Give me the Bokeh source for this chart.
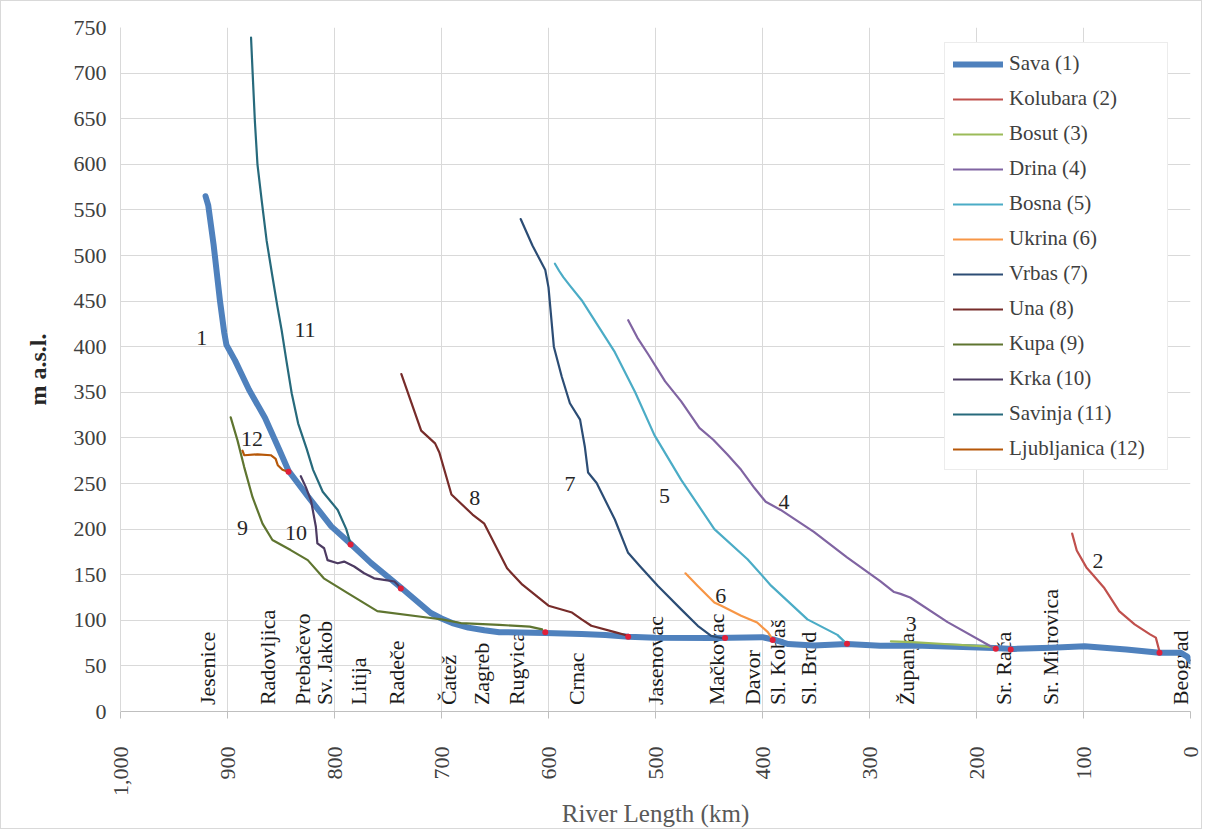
import math
from bokeh.plotting import figure
from bokeh.models import Range1d, Legend, LegendItem, NumeralTickFormatter, FixedTicker
from bokeh.core.properties import value
from bokeh.embed import file_html
from bokeh.resources import INLINE

FONT = "Liberation Serif"

# ---------------- data (km from mouth, m a.s.l.) ----------------
sava_km = [920.5, 918, 913, 907, 903, 901, 893, 880, 865, 852, 843, 825, 803, 785, 766, 738, 710, 700, 690,
           675, 660, 646, 603, 569, 547, 525, 500, 448, 430, 400, 390, 376, 352, 321, 290, 258, 220, 184, 165,
           130, 99, 60, 29, 9, 3, 0]
sava_m = [565, 555, 512, 450, 415, 402, 385, 353, 322, 288, 264, 236, 203, 184, 163, 136, 108, 102, 97,
          92, 89, 87, 86, 85, 84, 82, 81, 80.5, 81, 81.5, 79, 74, 72.3, 74, 72, 72.3, 71, 69.6, 68.6,
          70, 71.5, 68, 64.3, 64.3, 60, 55]

kolubara_km = [110.6, 106.3, 97.3, 91.9, 81, 66.7, 52.2, 37.8, 32.4, 28.8]
kolubara_m = [195, 176.5, 158, 150.7, 136, 110, 95.6, 84.6, 81, 65]

bosut_km = [280, 260, 230, 200, 184]
bosut_m = [77, 76, 74, 72, 70.5]

drina_km = [525.5, 517, 507, 491, 476, 459, 446, 433, 420, 407.5, 397, 383, 352, 321, 290, 277, 271, 262, 227, 182.3]
drina_m = [429, 410, 392, 362, 340, 311, 298, 282, 265, 245, 230, 221, 197, 169, 143, 131, 129, 125, 98, 68.6]

bosna_km = [594, 590, 586, 580, 569, 538, 519, 501, 476, 445, 414, 392, 358, 330, 322]
bosna_m = [491, 483, 476, 467, 451, 394, 350, 303, 254, 200, 167, 138, 101, 84, 75]

ukrina_km = [472, 460.5, 445, 438.5, 420, 405, 395, 390.5]
ukrina_m = [151.5, 137.6, 119.5, 116, 105, 97.6, 87, 79]

vrbas_km = [626, 615, 603, 600, 595, 587.6, 580, 570.5, 566, 563, 555, 538, 525.6, 514.7, 497.7, 476, 460.5, 448, 436]
vrbas_m = [540, 511, 484, 465, 400, 367, 338, 320, 290, 262, 250.5, 210.5, 174, 159.5, 137.6, 112, 94, 83, 80]

una_km = [737.5, 719, 706, 702, 690.7, 671, 660, 638.7, 624.4, 600, 578, 569, 560, 538, 525.6]
una_m = [370, 308, 294, 284, 238, 216, 206, 157, 139, 116, 108.5, 101, 94, 87, 83]

kupa_km = [897, 890.6, 884.4, 876.6, 867.3, 858, 841, 825, 810, 788, 760, 710, 700, 682, 646, 617.5, 606]
kupa_m = [322.5, 297, 268, 235, 206, 188, 177, 166, 146, 130, 110, 102.5, 101, 97, 95, 93, 90]

krka_km = [831.5, 826.8, 822, 817.4, 816, 809.7, 806.5, 797, 791, 781.6, 772.3, 763, 753.6, 744, 741, 738.6]
krka_m = [258, 246, 231.6, 202.5, 184.4, 179, 166, 162.5, 164.4, 159, 151.6, 146, 144.4, 142.5, 139, 135]

savinja_km = [878, 876.5, 874.4, 872, 868, 863.4, 858, 853.5, 849.4, 845, 840, 834, 826, 820, 811, 797, 789, 785]
savinja_m = [739, 700, 647, 600, 560, 516, 477, 445, 418, 385, 349, 316, 288, 265, 241, 221, 200, 184]

ljubljanica_km = [886, 884.4, 872, 859.5, 855, 853, 848.6, 843.5]
ljubljanica_m = [286, 281, 282, 281, 277, 270, 265, 263]

confl_km = [843, 785, 738, 603, 525.5, 435, 390.5, 321, 182, 168, 29]
confl_m = [263, 183, 135, 87, 82, 80.5, 78.5, 74.2, 68.8, 68, 64.5]

series_names = ["Sava (1)", "Kolubara (2)", "Bosut (3)", "Drina (4)", "Bosna (5)", "Ukrina (6)",
                "Vrbas (7)", "Una (8)", "Kupa (9)", "Krka (10)", "Savinja (11)", "Ljubljanica (12)"]
series_colors = ["#4F81BD", "#C0504D", "#9BBB59", "#8064A2", "#4BACC6", "#F79646",
                 "#2C4D75", "#772C2A", "#5F7530", "#4D3B62", "#276A7C", "#B65708"]

num_labels = ["1", "2", "3", "4", "5", "6", "7", "8", "9", "10", "11", "12"]
num_km = [924, 86.5, 261, 380, 491.5, 439, 580, 669, 886, 836, 827.6, 877]
num_m = [409, 165, 96, 230, 236, 127, 249, 234, 201, 196, 418, 299]

stations = ["Jesenice", "Radovljica", "Prebačevo", "Sv. Jakob", "Litija", "Radeče", "Čatež", "Zagreb",
            "Rugvica", "Crnac", "Jasenovac", "Mačkovac", "Davor", "Sl. Kobaš", "Sl. Brod", "Županja",
            "Sr. Rača", "Sr. Mitrovica", "Beograd"]
station_km = [919, 863, 830, 809, 778, 742, 693, 663, 630, 574, 500, 443, 409, 386, 357, 265, 175, 131, 9]

x_ticks = list(range(0, 1001, 100))
y_ticks = list(range(0, 751, 50))

# ---------------- figure ----------------
p = figure(width=1202, height=829, x_range=Range1d(1000, 0), y_range=Range1d(0, 750),
           output_backend="svg", toolbar_location=None,
           min_border_left=119, min_border_right=13, min_border_top=26, min_border_bottom=117)
p.outline_line_color = None
p.background_fill_color = "white"
p.border_fill_color = "white"
p.styles = {"border": "1px solid #d9d9d9"}

p.xaxis.ticker = FixedTicker(ticks=x_ticks)
p.yaxis.ticker = FixedTicker(ticks=y_ticks)
p.xaxis.formatter = NumeralTickFormatter(format="0,0")
p.xaxis.major_label_orientation = math.pi / 2
p.xgrid.grid_line_color = "#d9d9d9"
p.ygrid.grid_line_color = "#d9d9d9"

for ax in (p.xaxis, p.yaxis):
    ax.major_label_text_font = FONT
    ax.major_label_text_font_size = "22px"
    ax.major_label_text_color = "#404040"
    ax.minor_tick_line_color = None
    ax.axis_line_color = "#bfbfbf"
    ax.axis_label_text_font = FONT

p.xaxis.major_tick_line_color = "#bfbfbf"
p.xaxis.major_tick_out = 7
p.xaxis.major_tick_in = 0
p.xaxis.major_label_standoff = 28
p.xaxis.axis_label = "River Length (km)"
p.xaxis.axis_label_text_font_size = "25px"
p.xaxis.axis_label_text_font_style = "normal"
p.xaxis.axis_label_text_color = "#595959"
p.xaxis.axis_label_standoff = 1

p.yaxis.axis_line_color = "#d9d9d9"
p.yaxis.major_tick_line_color = None
p.yaxis.major_label_standoff = 8
p.yaxis.axis_label = "m a.s.l."
p.yaxis.axis_label_text_font_size = "24px"
p.yaxis.axis_label_text_font_style = "bold"
p.yaxis.axis_label_text_color = "#262626"
p.yaxis.axis_label_standoff = 20

# station labels (drawn first, lines on top)
p.text(x=station_km, y=[7] * len(station_km), text=stations, angle=math.pi / 2,
       text_font=value(FONT), text_font_size="22px", text_color="#1a1a1a",
       text_align="left", text_baseline="middle")

xs = [sava_km, kolubara_km, bosut_km, drina_km, bosna_km, ukrina_km, vrbas_km, una_km,
      kupa_km, krka_km, savinja_km, ljubljanica_km]
ys = [sava_m, kolubara_m, bosut_m, drina_m, bosna_m, ukrina_m, vrbas_m, una_m,
      kupa_m, krka_m, savinja_m, ljubljanica_m]

items = []
for i, (xx, yy) in enumerate(zip(xs, ys)):
    w = 6 if i == 0 else 2.2
    r = p.line(xx, yy, line_color=series_colors[i], line_width=w, line_join="round", line_cap="round")
    items.append(LegendItem(label=series_names[i], renderers=[r]))

p.scatter(confl_km, confl_m, size=6, color="#e0203a", line_color=None)

p.text(x=num_km, y=num_m, text=num_labels, text_font=value(FONT), text_font_size="22px",
       text_color="#262626", text_align="center", text_baseline="middle")

legend = Legend(items=items, location=(824, 241), orientation="vertical",
                label_text_font=FONT, label_text_font_size="21px", label_text_color="#404040",
                glyph_width=50, glyph_height=20, label_height=20, spacing=10, padding=8,
                label_standoff=6, label_width=150, border_line_color="#d9d9d9",
                background_fill_color="white", background_fill_alpha=1.0, margin=0)
p.add_layout(legend, "center")

open("out.html", "w").write(file_html(p, INLINE))
